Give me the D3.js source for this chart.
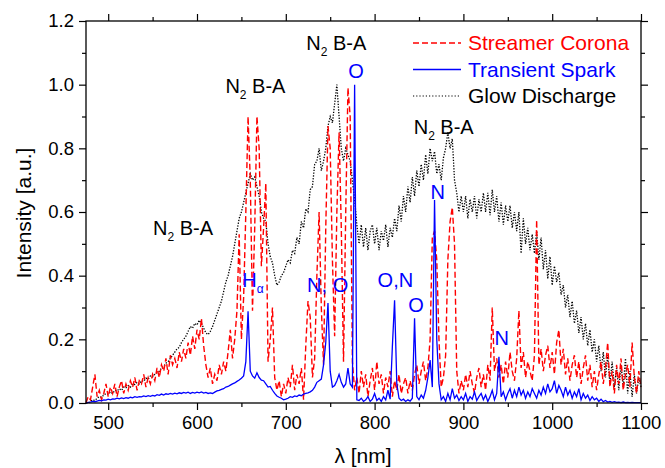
<!DOCTYPE html>
<html>
<head>
<meta charset="utf-8">
<script src="https://cdn.jsdelivr.net/npm/d3@7"></script>
<style>
  body { margin: 0; background: #fff; }
  svg { font-family: Arial, "Liberation Sans", sans-serif; }
</style>
</head>
<body>
<div id="chart"></div>
<script>
const lambdaStart = 475, lambdaStep = 2.5;

const glowDischarge = [
  0.0, 0.0, 0.005, 0.01, 0.008, 0.015, 0.02, 0.018, 0.025, 0.03,
  0.028, 0.035, 0.03, 0.04, 0.038, 0.045, 0.04, 0.05, 0.048, 0.055,
  0.05, 0.06, 0.058, 0.065, 0.06, 0.07, 0.068, 0.078, 0.075, 0.085,
  0.082, 0.09, 0.095, 0.1, 0.11, 0.115, 0.125, 0.13, 0.14, 0.15,
  0.16, 0.17, 0.175, 0.19, 0.2, 0.21, 0.225, 0.24, 0.235, 0.25,
  0.245, 0.26, 0.25, 0.235, 0.22, 0.215, 0.225, 0.24, 0.26, 0.28,
  0.3, 0.32, 0.35, 0.38, 0.4, 0.43, 0.46, 0.5, 0.54, 0.58,
  0.6, 0.63, 0.66, 0.69, 0.72, 0.7, 0.71, 0.68, 0.65, 0.6,
  0.58, 0.57, 0.5, 0.46, 0.44, 0.4, 0.37, 0.38, 0.4, 0.41,
  0.43, 0.45, 0.44, 0.48, 0.47, 0.52, 0.5, 0.57, 0.55, 0.61,
  0.6, 0.67, 0.68, 0.75, 0.76, 0.8, 0.73, 0.76, 0.8, 0.87,
  0.9, 0.88, 0.94, 1.0, 0.9, 0.8, 0.76, 0.8, 0.78, 0.76,
  0.7, 0.64, 0.56, 0.5, 0.56, 0.49, 0.55, 0.48, 0.54, 0.56,
  0.5, 0.55, 0.48, 0.54, 0.51, 0.56, 0.49, 0.55, 0.52, 0.58,
  0.54, 0.62, 0.57, 0.65, 0.6, 0.68, 0.63, 0.71, 0.65, 0.73,
  0.68, 0.75, 0.7, 0.78, 0.72, 0.8, 0.76, 0.79, 0.72, 0.75,
  0.7, 0.77, 0.8, 0.85, 0.8, 0.83, 0.7, 0.66, 0.6, 0.65,
  0.6, 0.65, 0.58, 0.64, 0.6, 0.65, 0.58, 0.64, 0.6, 0.66,
  0.6, 0.66, 0.59, 0.67, 0.6, 0.65, 0.57, 0.63, 0.56, 0.62,
  0.57, 0.62, 0.55, 0.6, 0.54, 0.6, 0.47, 0.58, 0.5, 0.55,
  0.48, 0.53, 0.47, 0.54, 0.45, 0.52, 0.42, 0.48, 0.39, 0.46,
  0.37, 0.43, 0.38, 0.41, 0.34, 0.37, 0.3, 0.34, 0.27, 0.32,
  0.25, 0.29, 0.22, 0.27, 0.2, 0.25, 0.18, 0.23, 0.16, 0.2,
  0.13, 0.18, 0.1, 0.16, 0.08, 0.15, 0.06, 0.13, 0.05, 0.11,
  0.04, 0.12, 0.05, 0.14, 0.03, 0.1, 0.02, 0.09, 0.03, 0.08,
  0.05
];

const streamerCorona = [
  0.0, 0.02, 0.01, 0.05, 0.09, 0.02, 0.04, 0.01, 0.03, 0.06,
  0.02, 0.05, 0.03, 0.06, 0.02, 0.05, 0.07, 0.03, 0.06, 0.04,
  0.07, 0.05, 0.08, 0.04, 0.07, 0.06, 0.09, 0.05, 0.08, 0.06,
  0.09, 0.07, 0.11, 0.08, 0.12, 0.1, 0.14, 0.09, 0.15, 0.12,
  0.14, 0.11, 0.16, 0.13, 0.17, 0.14, 0.19, 0.15, 0.21, 0.17,
  0.23, 0.2, 0.265, 0.18, 0.12, 0.08, 0.11, 0.06, 0.09, 0.07,
  0.12, 0.09, 0.13, 0.1, 0.16, 0.23, 0.14, 0.2, 0.29, 0.53,
  0.2, 0.33, 0.6, 0.9, 0.7, 0.29, 0.55, 0.9, 0.8, 0.43,
  0.55, 0.69, 0.13, 0.2, 0.3, 0.08, 0.04, 0.07, 0.02, 0.06,
  0.03, 0.08, 0.05, 0.12, 0.04, 0.09, 0.06, 0.11, 0.01, 0.18,
  0.32, 0.27, 0.08, 0.14, 0.4, 0.6, 0.3, 0.12, 0.55, 0.87,
  0.8, 0.45, 0.21, 0.6, 0.85, 0.55, 0.13, 0.6, 0.99, 0.9,
  0.13, 0.04, 0.08, 0.03, 0.1, 0.05, 0.09, 0.02, 0.07, 0.11,
  0.04, 0.13, 0.06, 0.09, 0.03, 0.08, 0.05, 0.1, 0.02, 0.07,
  0.04, 0.09, 0.03, 0.06, 0.08, 0.03, 0.07, 0.04, 0.09, 0.12,
  0.06, 0.1, 0.13, 0.07, 0.11, 0.2, 0.52, 0.54, 0.45, 0.2,
  0.05, 0.08, 0.15, 0.45, 0.57, 0.615, 0.5, 0.1, 0.03, 0.07,
  0.04, 0.09, 0.05, 0.1, 0.06, 0.03, 0.08, 0.11, 0.05, 0.09,
  0.04, 0.12, 0.07, 0.3, 0.1, 0.14, 0.08, 0.12, 0.06, 0.13,
  0.08, 0.16, 0.1, 0.07, 0.14, 0.29, 0.11, 0.16, 0.08, 0.13,
  0.1, 0.07, 0.15, 0.575, 0.12, 0.17, 0.1, 0.15, 0.18, 0.11,
  0.16, 0.09, 0.19, 0.23, 0.12, 0.17, 0.09, 0.14, 0.07, 0.12,
  0.15, 0.08, 0.13, 0.06, 0.11, 0.15, 0.07, 0.12, 0.05, 0.1,
  0.04, 0.09, 0.13, 0.06, 0.11, 0.19, 0.05, 0.1, 0.03, 0.12,
  0.06, 0.14, 0.04, 0.09, 0.12, 0.05, 0.19, 0.08, 0.03, 0.1,
  0.05
];

const transientSpark = [
  0.0, 0.002, 0.003, 0.005, 0.004, 0.006, 0.008, 0.007, 0.01, 0.009,
  0.012, 0.01, 0.013, 0.012, 0.015, 0.013, 0.016, 0.014, 0.017, 0.015,
  0.018, 0.016, 0.02, 0.018, 0.02, 0.019, 0.022, 0.02, 0.023, 0.021,
  0.024, 0.022, 0.026, 0.024, 0.028, 0.025, 0.029, 0.027, 0.03, 0.028,
  0.031, 0.029, 0.032, 0.03, 0.033, 0.031, 0.034, 0.03, 0.033, 0.031,
  0.034, 0.032, 0.035, 0.031, 0.033, 0.03, 0.032, 0.03, 0.034, 0.038,
  0.04, 0.043, 0.045, 0.05, 0.052, 0.056, 0.06, 0.063, 0.068, 0.072,
  0.078, 0.085, 0.13, 0.288, 0.1, 0.085, 0.078, 0.095, 0.08, 0.072,
  0.07, 0.06, 0.05, 0.052, 0.04, 0.03, 0.022, 0.018, 0.015, 0.01,
  0.012, 0.015, 0.02, 0.018, 0.022, 0.02, 0.025, 0.023, 0.028, 0.03,
  0.032, 0.035, 0.04, 0.05, 0.065, 0.07, 0.075, 0.12, 0.19, 0.314,
  0.1, 0.05, 0.055, 0.07, 0.09, 0.065, 0.05, 0.06, 0.11, 0.06,
  0.05, 1.0, 0.01, 0.008, 0.015, 0.005, 0.01, 0.02, 0.005, 0.012,
  0.03, 0.008, 0.015, 0.005, 0.02, 0.01, 0.04, 0.012, 0.177, 0.323,
  0.06, 0.015, 0.008, 0.012, 0.005, 0.01, 0.006, 0.015, 0.266, 0.02,
  0.01, 0.025, 0.015, 0.04, 0.08, 0.135, 0.05, 0.638, 0.2, 0.06,
  0.01, 0.02, 0.005, 0.03, 0.01, 0.045, 0.015, 0.025, 0.008, 0.02,
  0.01, 0.03, 0.005, 0.02, 0.012, 0.035, 0.008, 0.02, 0.03, 0.01,
  0.025, 0.005, 0.02, 0.04, 0.01, 0.03, 0.145, 0.02, 0.035, 0.01,
  0.03, 0.045, 0.015, 0.04, 0.02, 0.05, 0.025, 0.04, 0.015, 0.035,
  0.02, 0.045, 0.03, 0.015, 0.04, 0.025, 0.05, 0.03, 0.06, 0.035,
  0.045, 0.07, 0.03, 0.055, 0.04, 0.02, 0.05, 0.025, 0.04, 0.015,
  0.035, 0.02, 0.045, 0.01, 0.03, 0.015, 0.025, 0.008, 0.02, 0.01,
  0.015, 0.005, 0.012, 0.004, 0.008, 0.003, 0.005, 0.002, 0.004, 0.002,
  0.003, 0.001, 0.003, 0.001, 0.002, 0.001, 0.002, 0.001, 0.001, 0.001,
  0.001
];

const xMajor = [500, 600, 700, 800, 900, 1000, 1100];
const xMinor = [550, 650, 750, 850, 950, 1050];
const yMajor = [0, 0.2, 0.4, 0.6, 0.8, 1.0, 1.2];
const yMinor = [0.1, 0.3, 0.5, 0.7, 0.9, 1.1];

const seriesNames = ['Streamer Corona', 'Transient Spark', 'Glow Discharge'];

// peak labels, placed in data coordinates
const bandLabels = [
  { l: 550.5, v: 0.528 }, { l: 632, v: 0.974 },
  { l: 723, v: 1.109 }, { l: 844, v: 0.845 }
];
const lineLabels = [
  { l: 770.3, v: 1.021, t: 'O' },
  { l: 724, v: 0.349, t: 'N, O' },
  { l: 803.4, v: 0.364, t: 'O,N' },
  { l: 838, v: 0.286, t: 'O' },
  { l: 862.9, v: 0.641, t: 'N' },
  { l: 935.1, v: 0.182, t: 'N' }
];
const hAlpha = { l: 651, v: 0.364 };

const W = 665, H = 468;
const m = { top: 21, right: 24, bottom: 65, left: 86 };

const svg = d3.select('#chart').append('svg').attr('width', W).attr('height', H);

const x = d3.scaleLinear().domain([475, 1100]).range([m.left, W - m.right]);
const y = d3.scaleLinear().domain([0, 1.2]).range([H - m.bottom, m.top]);

const lam = i => lambdaStart + lambdaStep * i;
const line = d3.line().x((d, i) => x(lam(i))).y(d => y(d));

const styles = [
  { color: '#ff0000', dash: '6,3', w: 1.4 },
  { color: '#0000ff', dash: null, w: 1.3 },
  { color: '#000000', dash: '1.3,1.5', w: 1.3 }
];

const plot = svg.append('g');
plot.append('path').datum(glowDischarge).attr('d', line)
  .attr('fill', 'none').attr('stroke', styles[2].color).attr('stroke-width', styles[2].w)
  .attr('stroke-dasharray', styles[2].dash);
plot.append('path').datum(streamerCorona).attr('d', line)
  .attr('fill', 'none').attr('stroke', styles[0].color).attr('stroke-width', styles[0].w)
  .attr('stroke-dasharray', styles[0].dash);
plot.append('path').datum(transientSpark).attr('d', line)
  .attr('fill', 'none').attr('stroke', styles[1].color).attr('stroke-width', styles[1].w);

// axes: ticks outward on all four sides
const fontSize = 18.5;
function styleAxis(g) {
  g.select('.domain').remove();
  g.selectAll('line').attr('stroke', '#000').attr('stroke-width', 1.2);
  g.selectAll('text').attr('font-size', fontSize).attr('fill', '#000')
    .attr('font-family', 'Arial, "Liberation Sans", sans-serif');
}
svg.append('g').attr('transform', `translate(0,${H - m.bottom})`)
  .call(d3.axisBottom(x).tickValues(xMajor).tickSize(7).tickPadding(6).tickFormat(d3.format('d')))
  .call(styleAxis);
svg.append('g').attr('transform', `translate(0,${H - m.bottom})`)
  .call(d3.axisBottom(x).tickValues(xMinor).tickSize(4).tickFormat(''))
  .call(styleAxis);
svg.append('g').attr('transform', `translate(0,${m.top})`)
  .call(d3.axisTop(x).tickValues(xMajor).tickSize(7).tickFormat(''))
  .call(styleAxis);
svg.append('g').attr('transform', `translate(0,${m.top})`)
  .call(d3.axisTop(x).tickValues(xMinor).tickSize(4).tickFormat(''))
  .call(styleAxis);
svg.append('g').attr('transform', `translate(${m.left},0)`)
  .call(d3.axisLeft(y).tickValues(yMajor).tickSize(7).tickPadding(5).tickFormat(d3.format('.1f')))
  .call(styleAxis);
svg.append('g').attr('transform', `translate(${m.left},0)`)
  .call(d3.axisLeft(y).tickValues(yMinor).tickSize(4).tickFormat(''))
  .call(styleAxis);
svg.append('g').attr('transform', `translate(${W - m.right},0)`)
  .call(d3.axisRight(y).tickValues(yMajor).tickSize(7).tickFormat(''))
  .call(styleAxis);
svg.append('g').attr('transform', `translate(${W - m.right},0)`)
  .call(d3.axisRight(y).tickValues(yMinor).tickSize(4).tickFormat(''))
  .call(styleAxis);

svg.append('rect')
  .attr('x', m.left).attr('y', m.top)
  .attr('width', W - m.left - m.right).attr('height', H - m.top - m.bottom)
  .attr('fill', 'none').attr('stroke', '#000').attr('stroke-width', 1.3);

// axis titles
svg.append('text').attr('x', 363).attr('y', 463).attr('text-anchor', 'middle')
  .attr('font-size', 21).text('λ [nm]');
svg.append('text').attr('transform', 'translate(31,213) rotate(-90)')
  .attr('text-anchor', 'middle').attr('font-size', 21).text('Intensity [a.u.]');

// N2 B-A band labels
bandLabels.forEach(d => {
  const t = svg.append('text').attr('x', x(d.l)).attr('y', y(d.v))
    .attr('font-size', 20).attr('fill', '#000');
  t.append('tspan').text('N');
  t.append('tspan').attr('font-size', 12).attr('dy', 6).text('2');
  t.append('tspan').attr('dy', -6).text(' B-A');
});

// atomic line labels
lineLabels.forEach(d => {
  svg.append('text').attr('x', x(d.l)).attr('y', y(d.v))
    .attr('font-size', 20).attr('fill', '#0000ff').text(d.t);
});
const ha = svg.append('text').attr('x', x(hAlpha.l)).attr('y', y(hAlpha.v))
  .attr('font-size', 20).attr('fill', '#0000ff');
ha.append('tspan').text('H');
ha.append('tspan').attr('font-size', 12).attr('dy', 6).text('α');

// legend
const lg = svg.append('g');
seriesNames.forEach((name, i) => {
  const yy = 43 + i * 26.5;
  lg.append('line').attr('x1', 413).attr('x2', 461).attr('y1', yy).attr('y2', yy)
    .attr('stroke', styles[i].color).attr('stroke-width', i === 2 ? 1.1 : styles[i].w)
    .attr('stroke-dasharray', i === 2 ? '1.2,2' : styles[i].dash);
  lg.append('text').attr('x', 468).attr('y', yy + 7).attr('font-size', 21)
    .attr('fill', styles[i].color).text(name);
});
</script>
</body>
</html>
